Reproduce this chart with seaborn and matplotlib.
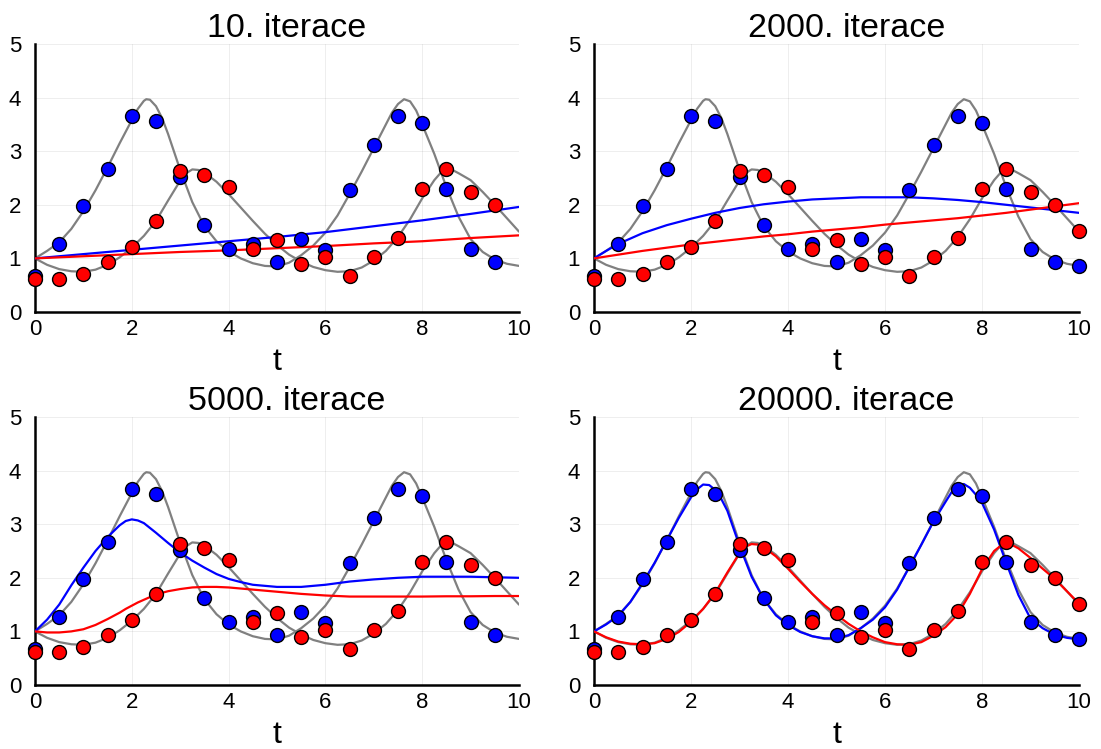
import numpy as np
import pandas as pd
import matplotlib
matplotlib.use("Agg")
import matplotlib.pyplot as plt
import seaborn as sns

# ---------------- data ----------------
t_obs = [0.0, 0.5, 1.0, 1.5, 2.0, 2.5, 3.0, 3.5, 4.0, 4.5, 5.0,
         5.5, 6.0, 6.5, 7.0, 7.5, 8.0, 8.5, 9.0, 9.5, 10.0]
prey_obs = [0.67, 1.27, 1.975, 2.66, 3.65, 3.56, 2.52, 1.62, 1.17, 1.27, 0.93,
            1.36, 1.16, 2.27, 3.12, 3.65, 3.53, 2.29, 1.18, 0.94, 0.86]
pred_obs = [0.61, 0.61, 0.70, 0.94, 1.22, 1.70, 2.63, 2.56, 2.34, 1.17, 1.34,
            0.90, 1.03, 0.67, 1.02, 1.38, 2.29, 2.66, 2.23, 2.00, 1.51]

# true solution (gray), prey
t_prey = [0.0, 0.25, 0.5, 0.75, 1.0, 1.25, 1.5, 1.75, 2.0, 2.125, 2.25, 2.3, 2.375,
          2.5, 2.625, 2.75, 3.0, 3.25, 3.5, 3.75, 4.0, 4.25, 4.5, 4.75, 5.0, 5.25,
          5.5, 5.75, 6.0, 6.25, 6.5, 6.75, 7.0, 7.25, 7.375, 7.5, 7.625, 7.75,
          7.875, 8.0, 8.25, 8.5, 8.75, 9.0, 9.25, 9.5, 9.75, 10.0]
prey_true = [1.00, 1.14, 1.30, 1.55, 1.88, 2.27, 2.70, 3.15, 3.58, 3.79, 3.94, 3.97, 3.96,
             3.84, 3.62, 3.32, 2.65, 2.05, 1.60, 1.32, 1.13, 1.00, 0.91, 0.86, 0.85, 0.92,
             1.06, 1.24, 1.48, 1.80, 2.20, 2.62, 3.06, 3.50, 3.72, 3.88, 3.97, 3.93,
             3.76, 3.50, 2.95, 2.33, 1.78, 1.36, 1.12, 0.98, 0.90, 0.86]

# true solution (gray), predator
t_pred = [0.0, 0.25, 0.5, 0.75, 1.0, 1.25, 1.5, 1.75, 2.0, 2.25, 2.5, 2.75, 3.0,
          3.125, 3.25, 3.375, 3.5, 3.75, 4.0, 4.25, 4.5, 4.75, 5.0, 5.25, 5.5,
          5.75, 6.0, 6.25, 6.5, 6.75, 7.0, 7.25, 7.5, 7.75, 8.0, 8.25, 8.375,
          8.5, 8.625, 8.75, 9.0, 9.25, 9.5, 9.75, 10.0]
pred_true = [1.00, 0.88, 0.80, 0.76, 0.75, 0.79, 0.88, 1.02, 1.20, 1.42, 1.70, 2.08, 2.45,
             2.59, 2.66, 2.65, 2.60, 2.43, 2.20, 1.95, 1.70, 1.46, 1.25, 1.07, 0.94,
             0.84, 0.78, 0.75, 0.76, 0.83, 0.96, 1.14, 1.40, 1.73, 2.12, 2.46, 2.59,
             2.66, 2.65, 2.59, 2.46, 2.24, 2.00, 1.75, 1.50]

# model fits
t_fit10 = [0.0, 1.0, 2.0, 3.0, 4.0, 5.0, 6.0, 7.0, 8.0, 9.0, 10.0]
prey_fit_10 = [1.00, 1.08, 1.16, 1.24, 1.32, 1.40, 1.49, 1.60, 1.71, 1.83, 1.96]
pred_fit_10 = [1.00, 1.04, 1.08, 1.12, 1.15, 1.19, 1.23, 1.28, 1.32, 1.38, 1.43]

t_fit2000 = [0.0, 0.25, 0.5, 1.0, 1.5, 2.0, 2.5, 3.0, 3.5, 4.0, 4.5, 5.0,
             5.5, 6.0, 6.5, 7.0, 7.5, 8.0, 8.5, 9.0, 9.5, 10.0]
prey_fit_2000 = [1.00, 1.14, 1.27, 1.47, 1.62, 1.74, 1.85, 1.94, 2.01, 2.06, 2.10, 2.12,
                 2.14, 2.14, 2.14, 2.12, 2.09, 2.05, 2.00, 1.95, 1.90, 1.85]
pred_fit_2000 = [1.00, 1.035, 1.07, 1.14, 1.20, 1.26, 1.31, 1.36, 1.41, 1.45, 1.50, 1.54,
                 1.58, 1.63, 1.67, 1.71, 1.75, 1.80, 1.85, 1.91, 1.97, 2.03]

t_fit5000 = [0.0, 0.25, 0.5, 0.75, 1.0, 1.25, 1.5, 1.75, 1.875, 2.0, 2.125, 2.25, 2.5,
             2.75, 3.0, 3.25, 3.5, 3.75, 4.0, 4.25, 4.5, 4.75, 5.0, 5.5, 6.0, 6.5,
             7.0, 7.5, 8.0, 8.5, 9.0, 9.5, 10.0]
prey_fit_5000 = [1.00, 1.22, 1.50, 1.86, 2.19, 2.50, 2.76, 2.98, 3.06, 3.09, 3.07, 3.02, 2.84,
                 2.65, 2.47, 2.32, 2.19, 2.07, 1.98, 1.92, 1.87, 1.85, 1.83, 1.83, 1.87, 1.93,
                 1.97, 2.00, 2.02, 2.02, 2.02, 2.01, 2.00]
pred_fit_5000 = [1.00, 0.98, 0.98, 1.00, 1.04, 1.12, 1.23, 1.35, 1.42, 1.48, 1.54, 1.59, 1.69,
                 1.75, 1.79, 1.82, 1.83, 1.83, 1.82, 1.80, 1.78, 1.76, 1.74, 1.70, 1.67, 1.65,
                 1.65, 1.65, 1.65, 1.655, 1.655, 1.66, 1.66]

t_fit20000_prey = [0.0, 0.25, 0.5, 0.75, 1.0, 1.25, 1.5, 1.75, 2.0, 2.125, 2.25, 2.375,
                   2.5, 2.625, 2.75, 3.0, 3.25, 3.5, 3.75, 4.0, 4.25, 4.5, 4.75, 5.0,
                   5.25, 5.5, 5.75, 6.0, 6.25, 6.5, 6.75, 7.0, 7.25, 7.375, 7.5, 7.625,
                   7.75, 7.875, 8.0, 8.25, 8.5, 8.75, 9.0, 9.25, 9.5, 9.75, 10.0]
prey_fit_20000 = [1.00, 1.13, 1.29, 1.55, 1.90, 2.28, 2.70, 3.12, 3.50, 3.65, 3.74, 3.73,
                  3.64, 3.47, 3.25, 2.60, 2.02, 1.60, 1.30, 1.12, 0.99, 0.91, 0.87, 0.87,
                  0.93, 1.06, 1.22, 1.45, 1.78, 2.20, 2.62, 3.05, 3.42, 3.60, 3.72, 3.75,
                  3.68, 3.55, 3.40, 2.90, 2.28, 1.68, 1.24, 1.06, 0.94, 0.88, 0.85]
t_fit20000_pred = [0.0, 0.25, 0.5, 0.75, 1.0, 1.25, 1.5, 1.75, 2.0, 2.25, 2.5, 2.75, 3.0,
                   3.125, 3.25, 3.375, 3.5, 3.75, 4.0, 4.25, 4.5, 4.75, 5.0, 5.25, 5.5,
                   5.75, 6.0, 6.25, 6.5, 6.75, 7.0, 7.25, 7.5, 7.75, 8.0, 8.25, 8.375,
                   8.5, 8.625, 8.75, 9.0, 9.25, 9.5, 9.75, 10.0]
pred_fit_20000 = [1.00, 0.89, 0.81, 0.77, 0.76, 0.78, 0.86, 0.99, 1.18, 1.42, 1.72, 2.10, 2.46,
                  2.58, 2.63, 2.62, 2.57, 2.40, 2.17, 1.93, 1.70, 1.49, 1.31, 1.14, 1.00,
                  0.89, 0.80, 0.76, 0.75, 0.80, 0.92, 1.08, 1.32, 1.70, 2.16, 2.50, 2.59,
                  2.63, 2.61, 2.55, 2.37, 2.17, 1.98, 1.75, 1.52]

titles = ["10. iterace", "2000. iterace", "5000. iterace", "20000. iterace"]
fits = [
    (t_fit10, prey_fit_10, t_fit10, pred_fit_10),
    (t_fit2000, prey_fit_2000, t_fit2000, pred_fit_2000),
    (t_fit5000, prey_fit_5000, t_fit5000, pred_fit_5000),
    (t_fit20000_prey, prey_fit_20000, t_fit20000_pred, pred_fit_20000),
]
n_points = [20, 21, 20, 21]

x_ticks = [0, 2, 4, 6, 8, 10]
y_ticks = [0, 1, 2, 3, 4, 5]

# ---------------- plot ----------------
sns.set_style("white")
plt.rcParams["font.family"] = ["Liberation Sans", "DejaVu Sans"]
plt.rcParams["text.color"] = "black"
plt.rcParams["axes.labelcolor"] = "black"

W, H = 1101, 749
fig = plt.figure(figsize=(W / 100, H / 100), dpi=100)

boxes = [(35, 44, 519, 312), (594, 44, 1079, 312),
         (35, 417, 519, 685), (594, 417, 1079, 685)]

for i, (x0, y0, x1, y1) in enumerate(boxes):
    ax = fig.add_axes([x0 / W, 1 - y1 / H, (x1 - x0) / W, (y1 - y0) / H])
    ax.set_xlim(0, 10)
    ax.set_ylim(0, 5)
    ax.grid(True, color="#000000", alpha=0.08, linewidth=0.6)
    ax.set_axisbelow(True)

    sns.lineplot(x=t_prey, y=prey_true, ax=ax, color="#808080", lw=1.6, zorder=2, estimator=None, sort=False)
    sns.lineplot(x=t_pred, y=pred_true, ax=ax, color="#808080", lw=1.6, zorder=2, estimator=None, sort=False)

    tp, pf, tr, rf = fits[i]
    sns.lineplot(x=tp, y=pf, ax=ax, color="#0000ff", lw=1.6, zorder=3, estimator=None, sort=False)
    sns.lineplot(x=tr, y=rf, ax=ax, color="#ff0000", lw=1.6, zorder=3, estimator=None, sort=False)

    n = n_points[i]
    sns.scatterplot(x=t_obs[:n], y=prey_obs[:n], ax=ax, color="#0000ff", s=100,
                    edgecolor="black", linewidth=1.0, zorder=4, clip_on=False)
    sns.scatterplot(x=t_obs[:n], y=pred_obs[:n], ax=ax, color="#ff0000", s=100,
                    edgecolor="black", linewidth=1.0, zorder=5, clip_on=False)

    ax.set_xticks(x_ticks)
    ax.set_yticks(y_ticks)
    ax.tick_params(axis="both", direction="in", length=4, width=1.2, labelsize=16,
                   color="black", labelcolor="black", pad=5)
    ax.tick_params(axis="y", pad=10)
    for side in ["top", "right"]:
        ax.spines[side].set_visible(False)
    for side in ["left", "bottom"]:
        ax.spines[side].set_color("black")
        ax.spines[side].set_linewidth(1.8)
    ax.set_xlabel("t", fontsize=23, labelpad=5, color="black")
    ax.set_ylabel("")
    ax.set_title(titles[i], fontsize=24.5, pad=5, x=0.52, color="black")

fig.savefig("out.png", dpi=100)
